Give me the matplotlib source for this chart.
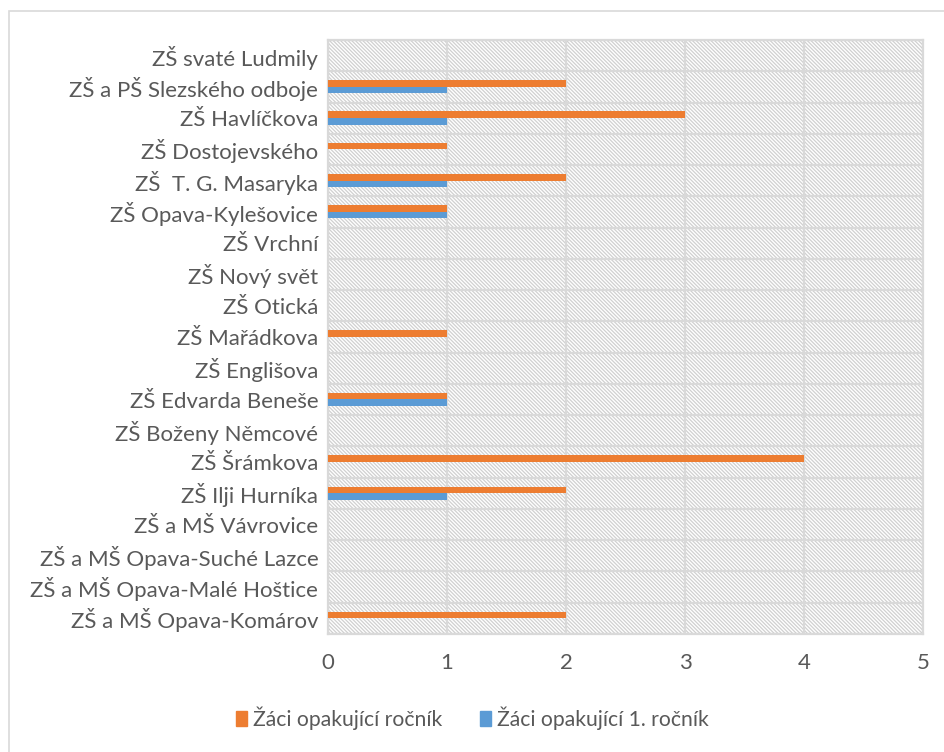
import matplotlib
matplotlib.use("Agg")
import matplotlib.pyplot as plt
import matplotlib.patches as mpatches
import numpy as np

schools = [
    "ZŠ svaté Ludmily",
    "ZŠ a PŠ Slezského odboje",
    "ZŠ Havlíčkova",
    "ZŠ Dostojevského",
    "ZŠ  T. G. Masaryka",
    "ZŠ Opava-Kylešovice",
    "ZŠ Vrchní",
    "ZŠ Nový svět",
    "ZŠ Otická",
    "ZŠ Mařádkova",
    "ZŠ Englišova",
    "ZŠ Edvarda Beneše",
    "ZŠ Boženy Němcové",
    "ZŠ Šrámkova",
    "ZŠ Ilji Hurníka",
    "ZŠ a MŠ Vávrovice",
    "ZŠ a MŠ Opava-Suché Lazce",
    "ZŠ a MŠ Opava-Malé Hoštice",
    "ZŠ a MŠ Opava-Komárov",
]
repeat_any = [0, 2, 3, 1, 2, 1, 0, 0, 0, 1, 0, 1, 0, 4, 2, 0, 0, 0, 2]
repeat_first = [0, 1, 1, 0, 1, 1, 0, 0, 0, 0, 0, 1, 0, 0, 1, 0, 0, 0, 0]
xticks = [0, 1, 2, 3, 4, 5]
series_names = ["Žáci opakující ročník", "Žáci opakující 1. ročník"]

plt.rcParams['font.family'] = ['Lato', 'DejaVu Sans']
plt.rcParams['hatch.color'] = '#D4D4D4'
plt.rcParams['hatch.linewidth'] = 0.9

text_color = '#595959'
orange = '#ED7D31'
blue = '#5B9BD5'
grid = '#D9D9D9'
fs = 16

fig = plt.figure(figsize=(9.45, 7.52), dpi=100)
# outer chart border
border = mpatches.Rectangle((9 / 945, -0.05), 1.1, 1 - 11 / 752 + 0.05,
                            transform=fig.transFigure, fill=False,
                            edgecolor='#D9D9D9', linewidth=1.2)
fig.patches.append(border)

ax = fig.add_axes([328 / 945, 1 - 634 / 752, (923 - 328) / 945, (634 - 40) / 752])
ax.patch.set_facecolor('white')
ax.patch.set_hatch('\\' * 9)
ax.patch.set_edgecolor('#D0D0D0')

n = len(schools)
y = np.arange(n)[::-1].astype(float)
h = 0.21
ax.barh(y + h / 2 + 0.005, repeat_any, height=h, color=orange, zorder=3,
        label=series_names[0])
ax.barh(y - h / 2 + 0.005, repeat_first, height=h, color=blue, zorder=3,
        label=series_names[1])

ax.set_xlim(0, 5)
ax.set_ylim(-0.5, n - 0.5)
ax.set_xticks(xticks)
ax.set_xticklabels([str(t) for t in xticks])
ax.set_yticks(y)
ax.set_yticklabels(schools)
ax.set_yticks(np.arange(n + 1) - 0.5, minor=True)
ax.tick_params(axis='both', which='both', length=0, colors=text_color,
               labelsize=fs)
ax.tick_params(axis='y', pad=7)
ax.tick_params(axis='x', pad=14)
ax.grid(True, axis='x', which='major', color=grid, linewidth=1.6, zorder=1)
ax.grid(True, axis='y', which='minor', color=grid, linewidth=1.6, zorder=1)
ax.set_axisbelow(True)
for s in ax.spines.values():
    s.set_color(grid)
    s.set_linewidth(1.6)

handles = [mpatches.Patch(color=orange), mpatches.Patch(color=blue)]
leg = fig.legend(handles, series_names, loc='center', bbox_to_anchor=(0.4995, 1 - 718 / 752),
                 ncol=2, frameon=False, fontsize=15.2, handlelength=0.55,
                 handleheight=0.7, handletextpad=0.25, columnspacing=1.8)
for t in leg.get_texts():
    t.set_color(text_color)

fig.savefig('out.png', dpi=100)
